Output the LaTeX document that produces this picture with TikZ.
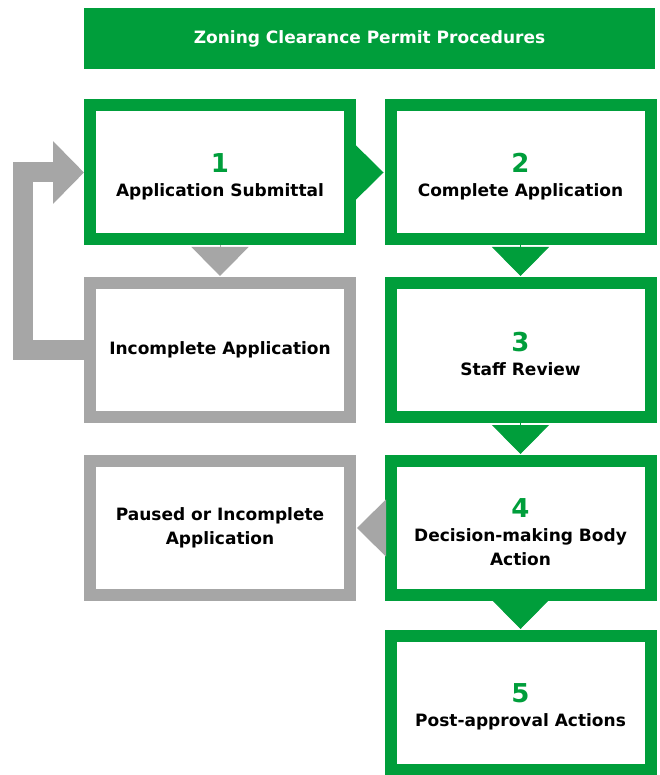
\documentclass[tikz,border=0pt]{standalone}
\usepackage{fontspec}
\setmainfont{DejaVu Sans}
\usetikzlibrary{arrows.meta}
\definecolor{zgreen}{HTML}{009E3B}
\definecolor{zgray}{HTML}{A6A6A6}
\newcommand\stepno[1]{{\color{zgreen}\fontsize{26}{26}\selectfont\rule{0pt}{27pt}#1}}

\begin{document}
\begin{tikzpicture}[x=1pt,y=-1pt,font=\bfseries\fontsize{17}{24}\selectfont,
  stepbox/.style={draw=zgreen,line width=12pt,outer sep=6pt,inner sep=0pt,minimum width=260pt,minimum height=134pt,align=center},
  offbox/.style={stepbox,draw=zgray},
  gtip/.style={zgreen,line width=1pt,shorten >=1pt,-{Triangle[width=57pt,length=29pt]}},
  ytip/.style={gtip,zgray}]
\useasboundingbox (0,0) rectangle (660,775);
\node[fill=zgreen,text=white,minimum width=571pt,minimum height=61pt,inner sep=0pt] (title) at (369.5,38.5) {Zoning Clearance Permit Procedures};
\node[stepbox] (b1) at (220,172.5) {\stepno{1}\\ Application Submittal};
\node[stepbox] (b2) at (520.5,172.5) {\stepno{2}\\ Complete Application};
\node[offbox] (g1) at (220,350) {Incomplete Application};
\node[stepbox] (b3) at (520.5,350) {\stepno{3}\\ Staff Review};
\node[stepbox] (b4) at (520.5,528) {\stepno{4}\\ Decision-making Body\\ Action};
\node[offbox] (g2) at (220,528) {Paused or Incomplete\\ Application};
\node[stepbox] (b5) at (520.5,703) {\stepno{5}\\ Post-approval Actions};
\coordinate (lp) at (23,172.5);
\draw[gtip] (b1.east) -- (b2.west);
\draw[gtip] (b2.south) -- (b3.north);
\draw[gtip] (b3.south) -- (b4.north);
\draw[gtip] (b4.south) -- (b5.north);
\draw[ytip] (b1.south) -- (g1.north);
\draw[ytip] (b4.west) -- (g2.east);
\draw[zgray,line width=20pt,-{Triangle[width=61pt,length=31pt]}] (g1.west) -| (lp) -- (b1.west);
\end{tikzpicture}
\end{document}
